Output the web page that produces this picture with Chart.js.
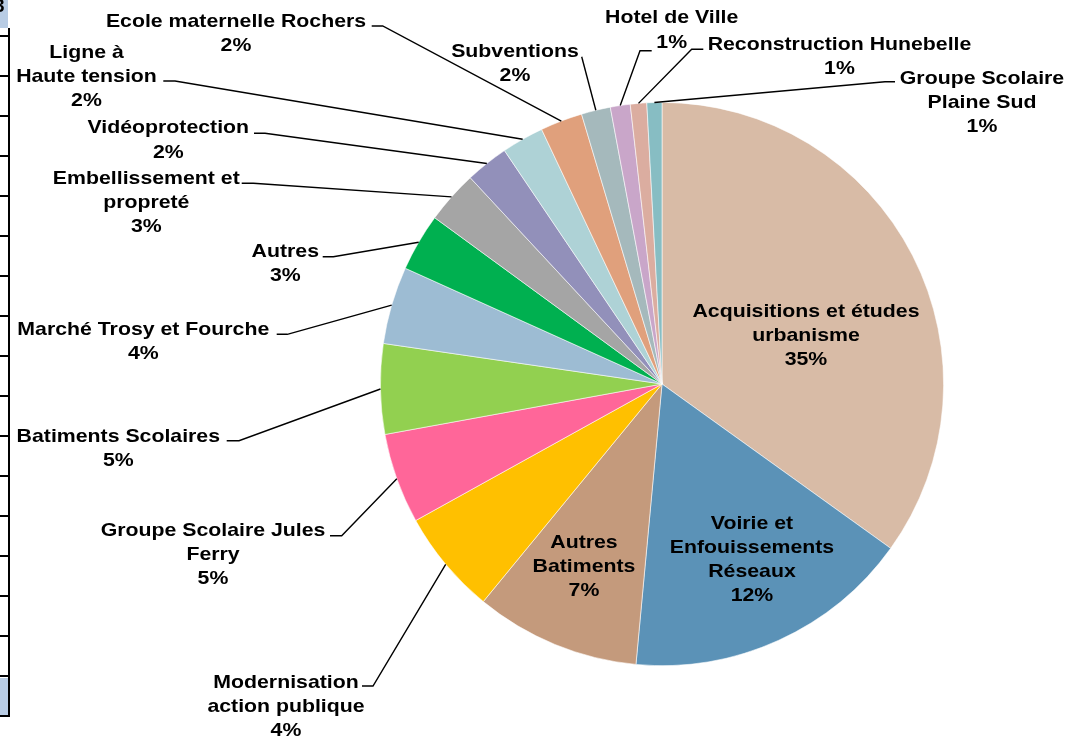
<!DOCTYPE html>
<html>
<head>
<meta charset="utf-8">
<script src="https://cdn.jsdelivr.net/npm/chart.js@4.4.1/dist/chart.umd.min.js"></script>
<style>
  html, body { margin:0; padding:0; background:#fff; }
  #wrap { position:relative; width:1069px; height:738px; overflow:hidden; }
  #c { position:absolute; left:0; top:0; }
  .ed { position:absolute; }
</style>
</head>
<body>
<div id="wrap">
  <canvas id="c" width="1069" height="738"></canvas>
</div>
<script>
// ---- DATA ----
const categories = [
  'Acquisitions et études urbanisme',
  'Voirie et Enfouissements Réseaux',
  'Autres Batiments',
  'Modernisation action publique',
  'Groupe Scolaire Jules Ferry',
  'Batiments Scolaires',
  'Marché Trosy et Fourche',
  'Autres',
  'Embellissement et propreté',
  'Vidéoprotection',
  'Ligne à Haute tension',
  'Ecole maternelle Rochers',
  'Subventions',
  'Hotel de Ville',
  'Reconstruction Hunebelle',
  'Groupe Scolaire Plaine Sud'
];
const values = [34.92, 16.56, 9.47, 6.0, 5.19, 5.17, 4.44, 3.31, 3.03, 2.47, 2.42, 2.42, 1.67, 1.14, 0.94, 0.86];
const percentLabels = ['35%','12%','7%','4%','5%','5%','4%','3%','3%','2%','2%','2%','2%','1%','1%','1%'];
const labelLines = [
  ['Acquisitions et études','urbanisme'],
  ['Voirie et','Enfouissements','Réseaux'],
  ['Autres','Batiments'],
  ['Modernisation','action publique'],
  ['Groupe Scolaire Jules','Ferry'],
  ['Batiments Scolaires'],
  ['Marché Trosy et Fourche'],
  ['Autres'],
  ['Embellissement et','propreté'],
  ['Vidéoprotection'],
  ['Ligne à','Haute tension'],
  ['Ecole maternelle Rochers'],
  ['Subventions'],
  ['Hotel de Ville'],
  ['Reconstruction Hunebelle'],
  ['Groupe Scolaire','Plaine Sud']
];
const colors = ['#D8BBA6','#5B92B7','#C49A7C','#FFC000','#FF6699','#92D050','#9DBCD3','#00B050',
                '#A5A5A5','#9290BA','#AED2D6','#E0A07C','#A5B9BC','#C9A6C9','#DBADA0','#87BDC3'];

// ---- LABEL LAYOUT (text anchor: center x, first baseline; leader elbows) ----
const layout = [
  {x:806,   y:317},
  {x:752,   y:528.5},
  {x:584,   y:548},
  {x:286,   y:687.5, lead:[[373,686],[362,686]]},
  {x:213,   y:536,   lead:[[341.7,535.7],[330,535.7]]},
  {x:118.3, y:441.5, lead:[[239,440.7],[226.7,440.7]]},
  {x:143.3, y:335,   lead:[[287.3,334.3],[276.7,334.3]]},
  {x:285.3, y:256.5, lead:[[333.3,256.7],[322.7,256.7]]},
  {x:146.3, y:184,   lead:[[253.3,183.3],[241.7,183.3]]},
  {x:168.3, y:133.3, lead:[[265,133.3],[254,133.3]]},
  {x:86.5,  y:58,    lead:[[175,81],[163.3,81]]},
  {x:236,   y:26.5,  lead:[[382.7,26],[371.7,26]]},
  {x:515,   y:56.7,  lead:[[581.7,56.7]]},
  {x:671.7, y:23.3,  lead:[[640,50.7],[651.7,50.7]]},
  {x:839.5, y:50,    lead:[[691.7,49.3],[703.3,49.3]]},
  {x:982,   y:83.5,  lead:[[885,81.7],[895,81.7]]}
];
const FONT = 'bold 19px "Liberation Sans", Arial, sans-serif';
const SCALE_X = 1.12;
const LINE_H = 24.2;

const labelPlugin = {
  id: 'pieLabels',
  afterDatasetsDraw(chart) {
    const ctx = chart.ctx;
    const meta = chart.getDatasetMeta(0);
    ctx.save();
    ctx.strokeStyle = '#000';
    ctx.lineWidth = 1.4;
    meta.data.forEach((arc, i) => {
      const L = layout[i];
      if (!L.lead) return;
      const mid = (arc.startAngle + arc.endAngle) / 2;
      const px = arc.x + Math.cos(mid) * arc.outerRadius;
      const py = arc.y + Math.sin(mid) * arc.outerRadius;
      ctx.beginPath();
      ctx.moveTo(px, py);
      L.lead.forEach(p => ctx.lineTo(p[0], p[1]));
      ctx.stroke();
    });
    ctx.font = FONT;
    ctx.fillStyle = '#000';
    ctx.textAlign = 'center';
    ctx.textBaseline = 'alphabetic';
    meta.data.forEach((arc, i) => {
      const L = layout[i];
      const lines = labelLines[i].concat([percentLabels[i]]);
      lines.forEach((t, k) => {
        ctx.save();
        ctx.translate(L.x, L.y + k * LINE_H);
        ctx.scale(SCALE_X, 1);
        ctx.fillText(t, 0, 0);
        ctx.restore();
      });
    });
    ctx.restore();
  }
};

new Chart(document.getElementById('c'), {
  type: 'pie',
  data: {
    labels: categories,
    datasets: [{
      data: values,
      backgroundColor: colors,
      borderColor: 'rgba(255,255,255,0.7)',
      borderWidth: 0.8
    }]
  },
  options: {
    responsive: false,
    animation: false,
    devicePixelRatio: 1,
    layout: { padding: { left: 380, right: 125, top: 102, bottom: 72 } },
    plugins: { legend: { display: false }, tooltip: { enabled: false } }
  },
  plugins: [labelPlugin]
});

// ---- left-edge spreadsheet remnant ----
(function(){
  const wrap = document.getElementById('wrap');
  function box(l,t,w,h,bg){ const d=document.createElement('div'); d.className='ed';
    d.style.left=l+'px'; d.style.top=t+'px'; d.style.width=w+'px'; d.style.height=h+'px'; d.style.background=bg; wrap.appendChild(d); return d; }
  box(0,0,8,28,'#B8CCE4');
  box(0,678,8,37,'#B8CCE4');
  box(7.5,28,2,689,'#000');
  for (let y = 35; y <= 676; y += 40) box(0,y,8,1.5,'#000');
  box(0,715,9.5,2,'#000');
  const t = document.createElement('div'); t.className='ed';
  t.style.left='-6px'; t.style.top='-5px'; t.style.font='bold 19px "Liberation Sans", Arial, sans-serif';
  t.textContent='3'; wrap.appendChild(t);
})();
</script>
</body>
</html>
